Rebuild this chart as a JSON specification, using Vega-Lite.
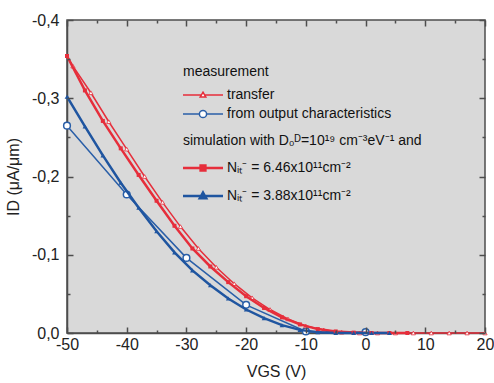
{
  "$schema": "https://vega.github.io/schema/vega-lite/v6.json",
  "width": 418,
  "height": 313,
  "autosize": {"type": "none"},
  "padding": {"left": 67, "top": 20, "right": 9, "bottom": 50},
  "background": "white",
  "datasets": {
    "curves": [
      {"series": "transfer", "V": -50, "I": -0.354},
      {"series": "transfer", "V": -49, "I": -0.341},
      {"series": "transfer", "V": -46, "I": -0.307},
      {"series": "transfer", "V": -43, "I": -0.270},
      {"series": "transfer", "V": -40, "I": -0.235},
      {"series": "transfer", "V": -37, "I": -0.200},
      {"series": "transfer", "V": -34, "I": -0.167},
      {"series": "transfer", "V": -31, "I": -0.136},
      {"series": "transfer", "V": -28, "I": -0.108},
      {"series": "transfer", "V": -25, "I": -0.084},
      {"series": "transfer", "V": -22, "I": -0.063},
      {"series": "transfer", "V": -19, "I": -0.045},
      {"series": "transfer", "V": -16, "I": -0.030},
      {"series": "transfer", "V": -13, "I": -0.018},
      {"series": "transfer", "V": -10, "I": -0.009},
      {"series": "transfer", "V": -7, "I": -0.004},
      {"series": "transfer", "V": -4, "I": -0.001},
      {"series": "transfer", "V": -1, "I": 0},
      {"series": "transfer", "V": 2, "I": 0},
      {"series": "transfer", "V": 5, "I": 0},
      {"series": "transfer", "V": 8, "I": 0},
      {"series": "transfer", "V": 11, "I": 0},
      {"series": "transfer", "V": 14, "I": 0},
      {"series": "transfer", "V": 17, "I": 0},
      {"series": "transfer", "V": 20, "I": 0},
      {"series": "from output characteristics", "V": -50, "I": -0.265},
      {"series": "from output characteristics", "V": -40, "I": -0.177},
      {"series": "from output characteristics", "V": -30, "I": -0.096},
      {"series": "from output characteristics", "V": -20, "I": -0.036},
      {"series": "from output characteristics", "V": -10, "I": -0.002},
      {"series": "from output characteristics", "V": 0, "I": -0.001},
      {"series": "Nᵢₜ⁻ = 6.46x10¹¹cm⁻²", "V": -50, "I": -0.354},
      {"series": "Nᵢₜ⁻ = 6.46x10¹¹cm⁻²", "V": -47, "I": -0.310},
      {"series": "Nᵢₜ⁻ = 6.46x10¹¹cm⁻²", "V": -44, "I": -0.271},
      {"series": "Nᵢₜ⁻ = 6.46x10¹¹cm⁻²", "V": -41, "I": -0.236},
      {"series": "Nᵢₜ⁻ = 6.46x10¹¹cm⁻²", "V": -38, "I": -0.202},
      {"series": "Nᵢₜ⁻ = 6.46x10¹¹cm⁻²", "V": -35, "I": -0.169},
      {"series": "Nᵢₜ⁻ = 6.46x10¹¹cm⁻²", "V": -32, "I": -0.137},
      {"series": "Nᵢₜ⁻ = 6.46x10¹¹cm⁻²", "V": -29, "I": -0.108},
      {"series": "Nᵢₜ⁻ = 6.46x10¹¹cm⁻²", "V": -26, "I": -0.085},
      {"series": "Nᵢₜ⁻ = 6.46x10¹¹cm⁻²", "V": -23, "I": -0.065},
      {"series": "Nᵢₜ⁻ = 6.46x10¹¹cm⁻²", "V": -20, "I": -0.047},
      {"series": "Nᵢₜ⁻ = 6.46x10¹¹cm⁻²", "V": -17, "I": -0.032},
      {"series": "Nᵢₜ⁻ = 6.46x10¹¹cm⁻²", "V": -14, "I": -0.020},
      {"series": "Nᵢₜ⁻ = 6.46x10¹¹cm⁻²", "V": -11, "I": -0.011},
      {"series": "Nᵢₜ⁻ = 6.46x10¹¹cm⁻²", "V": -8, "I": -0.005},
      {"series": "Nᵢₜ⁻ = 6.46x10¹¹cm⁻²", "V": -5, "I": -0.002},
      {"series": "Nᵢₜ⁻ = 6.46x10¹¹cm⁻²", "V": -2, "I": -0.0005},
      {"series": "Nᵢₜ⁻ = 6.46x10¹¹cm⁻²", "V": 1, "I": 0},
      {"series": "Nᵢₜ⁻ = 6.46x10¹¹cm⁻²", "V": 4, "I": 0},
      {"series": "Nᵢₜ⁻ = 6.46x10¹¹cm⁻²", "V": 7, "I": 0},
      {"series": "Nᵢₜ⁻ = 3.88x10¹¹cm⁻²", "V": -50, "I": -0.302},
      {"series": "Nᵢₜ⁻ = 3.88x10¹¹cm⁻²", "V": -47, "I": -0.264},
      {"series": "Nᵢₜ⁻ = 3.88x10¹¹cm⁻²", "V": -44, "I": -0.227},
      {"series": "Nᵢₜ⁻ = 3.88x10¹¹cm⁻²", "V": -41, "I": -0.192},
      {"series": "Nᵢₜ⁻ = 3.88x10¹¹cm⁻²", "V": -38, "I": -0.160},
      {"series": "Nᵢₜ⁻ = 3.88x10¹¹cm⁻²", "V": -35, "I": -0.130},
      {"series": "Nᵢₜ⁻ = 3.88x10¹¹cm⁻²", "V": -32, "I": -0.103},
      {"series": "Nᵢₜ⁻ = 3.88x10¹¹cm⁻²", "V": -29, "I": -0.080},
      {"series": "Nᵢₜ⁻ = 3.88x10¹¹cm⁻²", "V": -26, "I": -0.061},
      {"series": "Nᵢₜ⁻ = 3.88x10¹¹cm⁻²", "V": -23, "I": -0.044},
      {"series": "Nᵢₜ⁻ = 3.88x10¹¹cm⁻²", "V": -20, "I": -0.030},
      {"series": "Nᵢₜ⁻ = 3.88x10¹¹cm⁻²", "V": -17, "I": -0.019},
      {"series": "Nᵢₜ⁻ = 3.88x10¹¹cm⁻²", "V": -14, "I": -0.010},
      {"series": "Nᵢₜ⁻ = 3.88x10¹¹cm⁻²", "V": -11, "I": -0.004},
      {"series": "Nᵢₜ⁻ = 3.88x10¹¹cm⁻²", "V": -8, "I": -0.001},
      {"series": "Nᵢₜ⁻ = 3.88x10¹¹cm⁻²", "V": -5, "I": 0},
      {"series": "Nᵢₜ⁻ = 3.88x10¹¹cm⁻²", "V": -2, "I": 0},
      {"series": "Nᵢₜ⁻ = 3.88x10¹¹cm⁻²", "V": 1, "I": 0},
      {"series": "Nᵢₜ⁻ = 3.88x10¹¹cm⁻²", "V": 4, "I": 0}
    ]
  },
  "data": {"name": "curves"},
  "layer": [
    {
      "encoding": {
        "x": {"field": "V", "type": "quantitative", "scale": {"domain": [-50, 20], "nice": false, "zero": false},
          "axis": {"orient": "bottom", "title": "VGS (V)", "values": [-50, -40, -30, -20, -10, 0, 10, 20],
            "labelExpr": "datum.value < 0 ? '-' + abs(datum.value) : '' + datum.value",
            "ticks": false, "labelPadding": 3, "titlePadding": 11, "labelFlush": false, "labelOverlap": false}},
        "y": {"field": "I", "type": "quantitative", "scale": {"domain": [-0.4, 0], "reverse": true, "nice": false, "zero": false},
          "axis": {"orient": "left", "title": "ID (μA/μm)", "values": [-0.4, -0.3, -0.2, -0.1, 0],
            "labelExpr": "(datum.value < 0 ? '-' : '') + replace(format(abs(datum.value), '.1f'), '.', ',')",
            "ticks": false, "labelPadding": 8, "titlePadding": 10, "labelFlush": false, "labelOverlap": false}}
      },
      "layer": [
        {
          "transform": [{"filter": "datum.series === 'transfer' || datum.series === 'from output characteristics'"}],
          "mark": {"type": "line", "strokeWidth": 1.5},
          "encoding": {
            "color": {"field": "series", "type": "nominal",
              "scale": {"domain": ["transfer", "from output characteristics"], "range": ["#e62e3b", "#2a5fa8"]},
              "legend": {"title": "measurement", "orient": "none", "legendX": 116, "legendY": 45,
                "symbolSize": 64, "symbolStrokeWidth": 1.5, "labelFontSize": 14, "titleFontSize": 14, "titleFontWeight": "normal",
                "labelOffset": 17, "symbolOffset": 13, "rowPadding": 5, "titlePadding": 9, "labelLimit": 300, "titleLimit": 400,
                "titleColor": "#111", "labelColor": "#111",
                "encode": {"symbols": {"update": {
                  "shape": {"signal": "datum.value === 'transfer' ? 'M-5,0L-0.45,0M0.45,0L5,0M0,-0.7L0.7,0.5L-0.7,0.5Z' : 'M-5,0L-0.9,0M0.9,0L5,0M-0.9,0A0.9,0.9,0,1,0,0.9,0A0.9,0.9,0,1,0,-0.9,0'"},
                  "fill": {"value": "white"}, "strokeWidth": {"value": 1.5}, "opacity": {"value": 1}}}}}}
          }
        },
        {
          "transform": [{"filter": "datum.series === 'from output characteristics'"}],
          "mark": {"type": "point", "shape": "circle", "size": 45, "filled": true, "fill": "white", "stroke": "#2a5fa8", "strokeWidth": 1.5, "opacity": 1}
        },
        {
          "transform": [{"filter": "datum.series === 'transfer' && datum.V > -50"}],
          "mark": {"type": "point", "shape": "triangle-up", "size": 18, "filled": true, "fill": "white", "stroke": "#e62e3b", "strokeWidth": 0.8, "opacity": 1}
        }
      ]
    },
    {
      "encoding": {
        "x": {"field": "V", "type": "quantitative", "scale": {"domain": [-50, 20], "nice": false, "zero": false}, "axis": null},
        "y": {"field": "I", "type": "quantitative", "scale": {"domain": [-0.4, 0], "reverse": true, "nice": false, "zero": false}, "axis": null}
      },
      "layer": [
        {
          "transform": [{"filter": "indexof(datum.series, 'Nᵢₜ') === 0"}],
          "mark": {"type": "line", "strokeWidth": 2.5},
          "encoding": {
            "color": {"field": "series", "type": "nominal",
              "scale": {"domain": ["Nᵢₜ⁻ = 6.46x10¹¹cm⁻²", "Nᵢₜ⁻ = 3.88x10¹¹cm⁻²"], "range": ["#e62e3b", "#1f55a0"]},
              "legend": {"title": "simulation with D₀ᴰ=10¹⁹ cm⁻³eV⁻¹ and", "orient": "none", "legendX": 116, "legendY": 114,
                "symbolSize": 64, "symbolStrokeWidth": 2.5, "labelFontSize": 14, "titleFontSize": 14, "titleFontWeight": "normal",
                "labelOffset": 17, "symbolOffset": 13, "rowPadding": 11, "titlePadding": 13, "labelLimit": 300, "titleLimit": 400,
                "titleColor": "#111", "labelColor": "#111",
                "encode": {"symbols": {"update": {
                  "shape": {"signal": "indexof(datum.value, '6.46') > -1 ? 'M-5,0L5,0M-0.6,-0.6L0.6,-0.6L0.6,0.6L-0.6,0.6Z' : 'M-5,0L5,0M0,-0.85L0.8,0.55L-0.8,0.55Z'"},
                  "fill": {"signal": "indexof(datum.value, '6.46') > -1 ? '#e62e3b' : '#1f55a0'"},
                  "strokeWidth": {"value": 2.5}, "opacity": {"value": 1}}}}}}
          }
        },
        {
          "transform": [{"filter": "indexof(datum.series, '6.46') > -1"}],
          "mark": {"type": "point", "shape": "square", "size": 16, "filled": true, "color": "#e62e3b", "opacity": 1}
        },
        {
          "transform": [{"filter": "indexof(datum.series, '3.88') > -1"}],
          "mark": {"type": "point", "shape": "triangle-up", "size": 22, "filled": true, "color": "#1f55a0", "opacity": 1}
        }
      ]
    },
    {
      "mark": {"type": "point", "opacity": 0},
      "encoding": {
        "x": {"field": "V", "type": "quantitative", "scale": {"domain": [-50, 20], "nice": false, "zero": false},
          "axis": {"orient": "bottom", "title": null, "labels": false, "domain": false, "values": [-50, -40, -30, -20, -10, 0, 10, 20], "tickSize": 6, "offset": -6, "zindex": 5}},
        "y": {"field": "I", "type": "quantitative", "scale": {"domain": [-0.4, 0], "reverse": true, "nice": false, "zero": false},
          "axis": {"orient": "left", "title": null, "labels": false, "domain": false, "values": [-0.4, -0.3, -0.2, -0.1, 0], "tickSize": 6, "offset": -6, "zindex": 5}}
      }
    },
    {
      "mark": {"type": "point", "opacity": 0},
      "encoding": {
        "x": {"field": "V", "type": "quantitative", "scale": {"domain": [-50, 20], "nice": false, "zero": false},
          "axis": {"orient": "top", "title": null, "labels": false, "domain": false, "values": [-50, -40, -30, -20, -10, 0, 10, 20], "tickSize": 6, "offset": -6, "zindex": 5}},
        "y": {"field": "I", "type": "quantitative", "scale": {"domain": [-0.4, 0], "reverse": true, "nice": false, "zero": false},
          "axis": {"orient": "right", "title": null, "labels": false, "domain": false, "values": [-0.4, -0.3, -0.2, -0.1, 0], "tickSize": 6, "offset": -6, "zindex": 5}}
      }
    },
    {
      "mark": {"type": "point", "opacity": 0},
      "encoding": {
        "x": {"field": "V", "type": "quantitative", "scale": {"domain": [-50, 20], "nice": false, "zero": false},
          "axis": {"orient": "bottom", "title": null, "labels": false, "domain": false, "values": [-45, -35, -25, -15, -5, 5, 15], "tickSize": 3, "offset": -3, "zindex": 5}},
        "y": {"field": "I", "type": "quantitative", "scale": {"domain": [-0.4, 0], "reverse": true, "nice": false, "zero": false},
          "axis": {"orient": "left", "title": null, "labels": false, "domain": false, "values": [-0.35, -0.25, -0.15, -0.05], "tickSize": 3, "offset": -3, "zindex": 5}}
      }
    },
    {
      "mark": {"type": "point", "opacity": 0},
      "encoding": {
        "x": {"field": "V", "type": "quantitative", "scale": {"domain": [-50, 20], "nice": false, "zero": false},
          "axis": {"orient": "top", "title": null, "labels": false, "domain": false, "values": [-45, -35, -25, -15, -5, 5, 15], "tickSize": 3, "offset": -3, "zindex": 5}},
        "y": {"field": "I", "type": "quantitative", "scale": {"domain": [-0.4, 0], "reverse": true, "nice": false, "zero": false},
          "axis": {"orient": "right", "title": null, "labels": false, "domain": false, "values": [-0.35, -0.25, -0.15, -0.05], "tickSize": 3, "offset": -3, "zindex": 5}}
      }
    }
  ],
  "resolve": {"scale": {"color": "independent"}, "axis": {"x": "independent", "y": "independent"}},
  "config": {
    "font": "Liberation Sans",
    "view": {"fill": "#d9d9d9", "stroke": "#4d4d4d", "strokeWidth": 1.5},
    "axis": {"domainColor": "#4d4d4d", "domainWidth": 1.5, "tickColor": "#4d4d4d", "tickWidth": 1.5, "grid": false,
      "labelFont": "Liberation Sans", "labelFontSize": 16, "labelColor": "#222",
      "titleFont": "Liberation Sans", "titleFontSize": 16, "titleFontWeight": "normal", "titleColor": "#222"},
    "legend": {"labelFont": "Liberation Sans", "titleFont": "Liberation Sans"}
  }
}
